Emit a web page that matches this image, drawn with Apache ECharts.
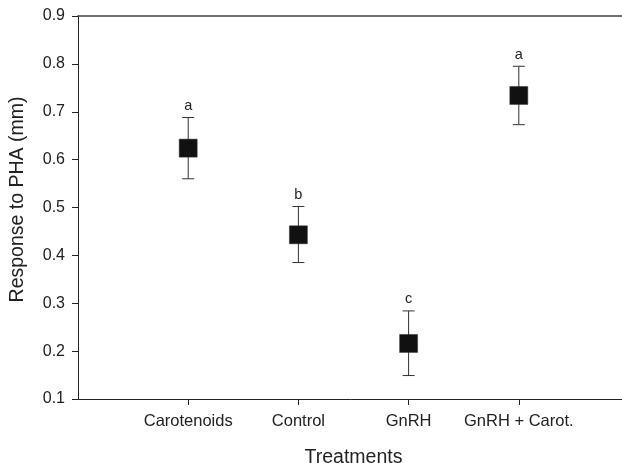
<!DOCTYPE html>
<html>
<head>
<meta charset="utf-8">
<script src="https://cdn.jsdelivr.net/npm/echarts@6/dist/echarts.min.js"></script>
<style>
  html, body { margin: 0; padding: 0; background: #fff; }
  #chart { width: 622px; height: 463px; }
</style>
</head>
<body>
<div id="chart"></div>
<script>
// treatments and measured responses
var categories = ['Carotenoids', 'Control', 'GnRH', 'GnRH + Carot.']
var means = [0.624, 0.443, 0.216, 0.734]
var upper = [0.688, 0.502, 0.284, 0.795]
var lower = [0.560, 0.385, 0.149, 0.673]
var letters = ['a', 'b', 'c', 'a']
var yTicks = [0.1, 0.2, 0.3, 0.4, 0.5, 0.6, 0.7, 0.8, 0.9]

var chart = echarts.init(document.getElementById('chart'))

var pos = categories.map(function (c, i) { return i + 1 })
var barData = pos.map(function (x, i) { return [x, lower[i], upper[i]] })
var pointData = pos.map(function (x, i) { return [x, means[i]] })

var font = 'Liberation Sans, Arial, Helvetica, sans-serif'

var option = {
  animation: false,
  grid: { left: 78, top: 16, width: 551, height: 383, outerBoundsMode: 'none' },
  xAxis: [{
    type: 'value',
    min: 0,
    max: 5,
    interval: 1,
    splitLine: { show: false },
    axisLine: { lineStyle: { color: '#222', width: 1 } },
    axisTick: { customValues: pos, length: 6, lineStyle: { color: '#222' } },
    axisLabel: {
      customValues: pos,
      margin: 14,
      color: '#222',
      fontSize: 16.5,
      fontFamily: font,
      formatter: function (v) { return categories[Math.round(v) - 1] || '' }
    },
    name: 'Treatments',
    nameLocation: 'middle',
    nameGap: 49,
    nameTextStyle: { color: '#222', fontSize: 19.5, fontFamily: font }
  }, {
    // top frame line
    type: 'value',
    position: 'top',
    min: 0,
    max: 5,
    splitLine: { show: false },
    axisLine: { show: true, lineStyle: { color: '#444', width: 1.5 } },
    axisTick: { show: false },
    axisLabel: { show: false }
  }],
  yAxis: {
    type: 'value',
    min: yTicks[0],
    max: yTicks[yTicks.length - 1],
    interval: 0.1,
    splitLine: { show: false },
    axisLine: { show: true, lineStyle: { color: '#222', width: 1 } },
    axisTick: { show: true, length: 6, lineStyle: { color: '#222' } },
    axisLabel: {
      margin: 13,
      color: '#222',
      fontSize: 16,
      fontFamily: font,
      formatter: function (v) { return v.toFixed(1) }
    },
    name: 'Response to PHA (mm)',
    nameLocation: 'middle',
    nameGap: 50,
    nameTextStyle: { color: '#222', fontSize: 19.5, fontFamily: font, padding: [0, 0, 0, 16] }
  },
  series: [
    {
      // error bars with caps and significance letters
      type: 'custom',
      data: barData,
      z: 2,
      renderItem: function (params, api) {
        var x = api.value(0)
        var lo = api.coord([x, api.value(1)])
        var hi = api.coord([x, api.value(2)])
        var cap = 6
        var st = { stroke: '#333', lineWidth: 1 }
        return {
          type: 'group',
          children: [
            { type: 'line', shape: { x1: lo[0], y1: lo[1], x2: hi[0], y2: hi[1] }, style: st },
            { type: 'line', shape: { x1: hi[0] - cap, y1: hi[1], x2: hi[0] + cap, y2: hi[1] }, style: st },
            { type: 'line', shape: { x1: lo[0] - cap, y1: lo[1], x2: lo[0] + cap, y2: lo[1] }, style: st },
            {
              type: 'text',
              style: {
                x: hi[0], y: hi[1] - 4,
                text: letters[params.dataIndex],
                align: 'center', verticalAlign: 'bottom',
                fill: '#222', fontSize: 14.5, fontFamily: font
              }
            }
          ]
        }
      }
    },
    {
      type: 'scatter',
      data: pointData,
      symbol: 'rect',
      symbolSize: 18,
      z: 3,
      itemStyle: { color: '#111', borderColor: '#333', borderWidth: 0.5, opacity: 1 }
    }
  ]
}
chart.setOption(option)
window.addEventListener('resize', function () {
  chart.resize()
})
</script>
</body>
</html>
